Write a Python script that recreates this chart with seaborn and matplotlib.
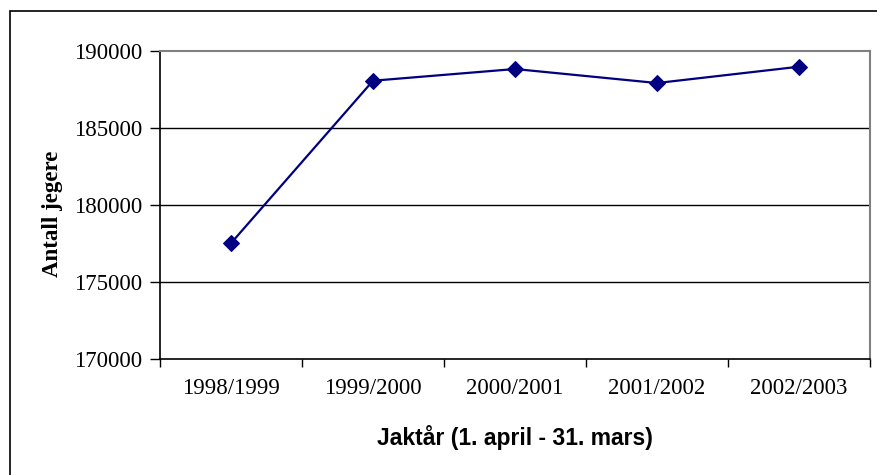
import pandas as pd
import matplotlib.pyplot as plt
import seaborn as sns
from matplotlib.patches import Rectangle

years = ['1998/1999', '1999/2000', '2000/2001', '2001/2002', '2002/2003']
hunters = [177520, 188070, 188830, 187920, 188980]
y_ticks = [170000, 175000, 180000, 185000, 190000]

df = pd.DataFrame({'year': years, 'hunters': hunters})

sns.set_style('white')
plt.rcParams['font.family'] = ['Liberation Serif', 'DejaVu Serif']
plt.rcParams['text.color'] = 'black'
plt.rcParams['axes.labelcolor'] = 'black'
plt.rcParams['xtick.color'] = 'black'
plt.rcParams['ytick.color'] = 'black'

fig = plt.figure(figsize=(8.77, 4.75), dpi=100)
ax = fig.add_axes([160 / 877, 1 - 359 / 475, 710 / 877, 308 / 475])

sns.lineplot(data=df, x='year', y='hunters', ax=ax, color='#000080',
             marker='D', markersize=8, markeredgecolor='#000080',
             linewidth=1.6, sort=False)

# gridlines like the excel chart
for v in y_ticks[1:-1]:
    ax.axhline(v, color='black', linewidth=1, zorder=0)

ax.set_ylim(170000, 190000)
ax.set_xlim(-0.5, len(years) - 0.5)
ax.set_yticks(y_ticks)
ax.set_yticklabels([str(v) for v in y_ticks], fontsize=16.5)
ax.set_xticks(range(len(years)))
ax.set_xticklabels(years, fontsize=16.5)
ax.set_xticks([i - 0.5 for i in range(len(years) + 1)], minor=True)
ax.tick_params(axis='x', which='major', length=0, pad=14)
ax.tick_params(axis='x', which='minor', length=6, width=1, direction='out',
               bottom=True)
ax.tick_params(axis='y', length=7, width=1, direction='out', left=True,
               pad=6)

for side in ['top', 'right']:
    ax.spines[side].set_color('#808080')
    ax.spines[side].set_linewidth(1.5)
for side in ['left', 'bottom']:
    ax.spines[side].set_color('black')
    ax.spines[side].set_linewidth(1.2)

ax.set_xlabel('Jaktår (1. april - 31. mars)', fontsize=16.5, fontweight='bold',
              family=['Liberation Sans Narrow', 'Liberation Sans', 'DejaVu Sans'])
ax.set_ylabel('Antall jegere', fontsize=16.5, fontweight='bold')
ax.xaxis.set_label_coords(0.5, -(425 - 359) / 308)
ax.xaxis.label.set_va('top')
ax.yaxis.set_label_coords(-(160 - 63) / 710, 0.5 - 9 / 308)

# outer chart frame (cut off at right and bottom)
fig.add_artist(Rectangle((10 / 877, -0.2), 1.2, 1.2 - 11 / 475,
                         transform=fig.transFigure, fill=False,
                         edgecolor='black', linewidth=1.2))

fig.savefig('out.png', dpi=100)
